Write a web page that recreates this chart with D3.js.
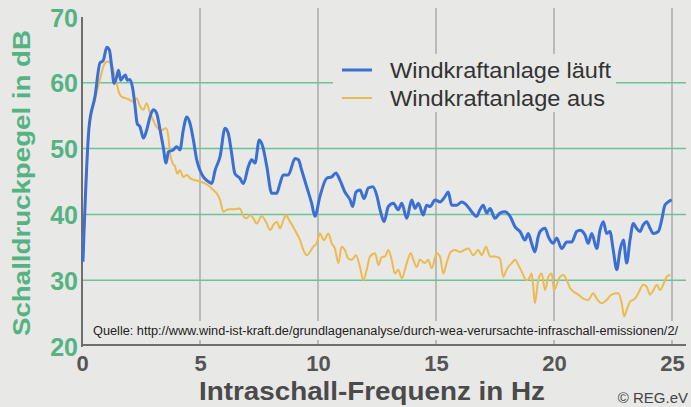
<!DOCTYPE html>
<html>
<head>
<meta charset="utf-8">
<script src="https://cdn.jsdelivr.net/npm/d3@7"></script>
<style>
  body { margin: 0; background: #e8e8e6; }
  svg { display: block; font-family: "Liberation Sans", Arial, sans-serif; }
</style>
</head>
<body>
<script>
// Infraschall: Windkraftanlage läuft / aus
var xTicks = [0, 5, 10, 15, 20, 25];
var yTicks = [20, 30, 40, 50, 60, 70];
var gridY = [30, 40, 50, 60];

var seriesNames = ["Windkraftanlage läuft", "Windkraftanlage aus"];

// blue: turbine running (Hz, dB)
var runHz = [0.04,0.3,0.55,0.76,0.9,1.05,1.16,1.26,1.36,1.47,1.55,1.64,1.75,1.84,1.92,2.03,2.15,2.25,2.34,2.46,
  2.6,2.74,2.88,3.02,3.16,3.31,3.44,3.56,3.66,3.87,4.01,4.15,4.29,4.44,4.58,4.72,4.86,5.0,5.14,5.35,
  5.5,5.64,5.85,6.06,6.2,6.34,6.48,6.69,6.84,7.05,7.19,7.33,7.51,7.66,7.83,8.04,8.25,8.39,8.53,8.74,
  9.03,9.17,9.31,9.52,9.73,9.87,10.08,10.37,10.58,10.76,10.93,11.14,11.36,11.47,11.61,11.78,11.95,12.13,12.32,12.49,
  12.63,12.8,12.98,13.19,13.4,13.55,13.76,13.97,14.11,14.25,14.46,14.6,14.75,14.96,15.17,15.38,15.52,15.66,15.88,16.09,
  16.3,16.51,16.72,16.86,17.0,17.15,17.29,17.5,17.71,17.92,18.14,18.35,18.56,18.77,18.91,19.05,19.19,19.33,19.41,19.62,
  19.76,19.97,20.11,20.33,20.54,20.75,20.96,21.1,21.31,21.45,21.6,21.81,21.95,22.09,22.23,22.37,22.51,22.66,22.8,22.94,
  23.08,23.22,23.36,23.5,23.64,23.78,23.93,24.07,24.21,24.42,24.56,24.7,24.84,24.99];
var runDb = [32.8,53.3,57.9,63,63.4,65.4,65,62.4,59.9,60.9,61.9,60.4,60.9,61.2,60.4,60.5,59.1,56.4,53.8,53.3,
  51.6,52.8,54.8,55.9,55.4,52.8,50.3,47.8,49.5,49.8,50.3,49.8,52.8,54.8,53.8,51.3,48.3,46.7,45.7,45,
  44.7,46.7,48.8,53.1,52.3,49.3,46.2,45.5,44.7,47.3,48.3,47.8,51.3,50.3,47.3,43.2,43.2,44.7,46,46,
  48.5,48.3,46.7,44.2,41.7,39.7,42.7,45.5,45.7,46.3,45.2,43.4,42.2,41.2,43.4,43.7,42.4,44,44.2,42.9,
  40.7,38.9,41.2,41.7,40.7,41.7,39.4,42.2,40.9,41.7,39.9,41.4,41.2,42.2,41.9,42.7,43.4,41.4,41.4,41.9,
  41.4,40.4,39.7,40.7,41.4,40.2,40.9,39.4,40.2,40.4,39.7,38.1,37.4,36.1,37.1,35.6,34.3,36.6,37.4,37.9,
  36.6,35.6,36.4,34.8,35.8,35.8,37.4,37.6,36.9,35.6,37.1,34.8,37.6,38.9,37.1,37.4,34.6,31.6,34.6,36.1,
  32.6,36.1,38.6,37.9,37.4,38.4,38.9,37.9,37.1,37.4,39.1,41.4,41.9,42.2];

// yellow: turbine off (Hz, dB)
var offHz = [0.04,0.3,0.55,0.76,0.9,1.05,1.19,1.33,1.47,1.58,1.68,1.89,2.03,2.17,2.32,2.46,2.6,2.74,2.88,3.02,
  3.16,3.38,3.56,3.66,3.73,3.84,3.94,4.04,4.15,4.29,4.44,4.58,4.79,5.0,5.21,5.42,5.56,5.71,5.85,5.99,
  6.13,6.27,6.48,6.69,6.84,6.98,7.12,7.26,7.4,7.61,7.83,7.97,8.11,8.25,8.39,8.53,8.64,8.78,8.95,9.1,
  9.24,9.38,9.52,9.66,9.8,9.94,10.08,10.25,10.44,10.58,10.72,10.86,11.0,11.14,11.28,11.43,11.61,11.78,11.92,12.06,
  12.2,12.42,12.56,12.7,12.84,12.98,13.12,13.26,13.4,13.55,13.76,13.93,14.04,14.18,14.32,14.53,14.67,14.82,15.03,15.17,
  15.31,15.45,15.62,15.8,16.02,16.2,16.37,16.58,16.79,16.94,17.12,17.29,17.5,17.71,17.85,17.99,18.21,18.35,18.49,18.63,
  18.84,18.98,19.05,19.12,19.19,19.33,19.48,19.62,19.76,19.9,20.0,20.25,20.4,20.54,20.68,20.82,21.03,21.24,21.45,21.66,
  21.81,22.02,22.23,22.44,22.73,22.87,22.97,23.08,23.22,23.43,23.57,23.78,23.93,24.07,24.21,24.36,24.49,24.65,24.79,24.93];
var offDb = [33,53,57.5,60.5,62.4,63.2,63.2,61.9,59.9,58.4,57.9,57.6,57.4,57.1,57.6,56.4,55.9,56.9,55.4,54.3,
  53.3,52.8,53.1,51.8,49.3,47.8,47.3,46.2,46.7,45.7,46,45.5,45.2,45,44.7,44.2,43.7,43.2,42.2,40.4,
  40.7,40.8,40.8,40.9,39.7,39.4,39.9,39.4,38.6,39.7,38.6,37.6,38.4,38.9,37.9,39.1,39.9,39.1,38.1,37.1,
  36.1,34.6,33.8,34.3,35.1,35.6,37.1,36.1,37.1,35.6,34.8,32.6,35.1,34.6,33.3,33.1,33.8,32,30,31.5,
  33.6,34.1,32.3,33.5,33.6,34.6,33.1,31,31.6,30.3,32.6,34.1,33.1,32,33.1,32.6,33.1,31.8,34.1,33.6,
  31,32.6,34.3,34.6,34.3,34.6,34.8,33.8,34.6,33.8,35.1,33.6,33.6,33.3,30.5,31.6,32.6,33.1,32.3,31.3,
  30,30.5,31,29,26.5,30,31,28.5,30.5,31,28.5,30.5,30.8,30,28.8,28.3,27.8,27.2,27,28,
  27.2,26.5,27,27.8,28,26.5,24.5,25.5,26.7,27.2,28,29.3,29,27.8,28.5,29.3,28.5,29.5,30.6,30.8];

var width = 691, height = 407;
var bg = "#e8e8e6";
var green = "#55b383";
var blue = "#3b6fd3";
var yellow = "#ebbb52";

var svg = d3.select("body").append("svg")
    .attr("width", width)
    .attr("height", height);

svg.append("rect").attr("width", width).attr("height", height).attr("fill", bg);

var x = d3.scaleLinear().domain([0, 25]).range([82, 672]);
var y = d3.scaleLinear().domain([20, 70]).range([346, 17]);

// gridlines
svg.append("g").selectAll("line")
    .data(xTicks.slice(1))
  .enter().append("line")
    .attr("x1", d => x(d)).attr("x2", d => x(d))
    .attr("y1", 8).attr("y2", y(20))
    .attr("stroke", "#8c8c8c").attr("stroke-width", 1);

svg.append("g").selectAll("line")
    .data(gridY)
  .enter().append("line")
    .attr("x1", x(0)).attr("x2", 686)
    .attr("y1", d => y(d)).attr("y2", d => y(d))
    .attr("stroke", "#6cc397").attr("stroke-width", 1.5);

// source text with its own background
svg.append("rect").attr("x", 88).attr("y", 321).attr("width", 594).attr("height", 19).attr("fill", bg);
svg.append("text")
    .attr("x", 93).attr("y", 335)
    .attr("font-size", 12).attr("fill", "#222")
    .attr("textLength", 585).attr("lengthAdjust", "spacingAndGlyphs")
    .text("Quelle: http://www.wind-ist-kraft.de/grundlagenanalyse/durch-wea-verursachte-infraschall-emissionen/2/");

// axis lines
svg.append("line").attr("x1", x(0)).attr("x2", x(0)).attr("y1", y(70)).attr("y2", y(20) + 1)
    .attr("stroke", "#6e6e6e").attr("stroke-width", 2);
svg.append("line").attr("x1", x(0)).attr("x2", 686).attr("y1", y(20) - 1).attr("y2", y(20) - 1)
    .attr("stroke", "#6e6e6e").attr("stroke-width", 2);

// lines
var line = d3.line()
    .x(d => x(d[0]))
    .y(d => y(d[1]))
    .curve(d3.curveMonotoneX);

var offData = d3.zip(offHz, offDb);
var runData = d3.zip(runHz, runDb);

svg.append("path").datum(offData)
    .attr("d", line).attr("fill", "none")
    .attr("stroke", yellow).attr("stroke-width", 2)
    .attr("stroke-linejoin", "round");

svg.append("path").datum(runData)
    .attr("d", line).attr("fill", "none")
    .attr("stroke", blue).attr("stroke-width", 3)
    .attr("stroke-linejoin", "round");

// axes labels
var yAxis = svg.append("g")
    .attr("transform", "translate(" + 78 + ",0)")
    .call(d3.axisLeft(y).tickValues(yTicks).tickSize(0).tickPadding(0));
yAxis.select(".domain").remove();
yAxis.selectAll("text")
    .attr("font-family", "'Liberation Sans', Arial, sans-serif")
    .attr("font-size", 25).attr("font-weight", "bold")
    .attr("fill", green).attr("dy", "0.36em");

var xAxis = svg.append("g")
    .attr("transform", "translate(0," + 355 + ")")
    .call(d3.axisBottom(x).tickValues(xTicks).tickSize(0).tickPadding(0));
xAxis.select(".domain").remove();
xAxis.selectAll("text")
    .attr("font-family", "'Liberation Sans', Arial, sans-serif")
    .attr("font-size", 22).attr("font-weight", "bold")
    .attr("fill", "#555").attr("dy", "0.71em");

// titles
svg.append("text")
    .attr("transform", "translate(30,183) rotate(-90)")
    .attr("text-anchor", "middle")
    .attr("font-size", 24).attr("font-weight", "bold")
    .attr("fill", green)
    .attr("textLength", 306).attr("lengthAdjust", "spacingAndGlyphs")
    .text("Schalldruckpegel in dB");

svg.append("text")
    .attr("x", 199).attr("y", 400)
    .attr("font-size", 26).attr("font-weight", "bold")
    .attr("fill", "#4a4a4a")
    .attr("textLength", 346).attr("lengthAdjust", "spacingAndGlyphs")
    .text("Intraschall-Frequenz in Hz");

svg.append("text")
    .attr("x", 688).attr("y", 403)
    .attr("text-anchor", "end")
    .attr("font-size", 15).attr("fill", "#444")
    .text("© REG.eV");

// legend
var legend = svg.append("g");
legend.append("rect").attr("x", 333).attr("y", 54).attr("width", 283).attr("height", 58).attr("fill", bg);
var colors = [blue, yellow];
var legendWidths = [221, 215];
seriesNames.forEach(function(name, i) {
  var ly = 70 + i * 28;
  legend.append("line")
      .attr("x1", 342).attr("x2", 372).attr("y1", ly).attr("y2", ly)
      .attr("stroke", colors[i]).attr("stroke-width", i == 0 ? 3 : 2);
  legend.append("text")
      .attr("x", 390).attr("y", ly + 8)
      .attr("font-size", 22).attr("fill", "#333")
      .attr("textLength", legendWidths[i]).attr("lengthAdjust", "spacingAndGlyphs")
      .text(name);
});
</script>
</body>
</html>
